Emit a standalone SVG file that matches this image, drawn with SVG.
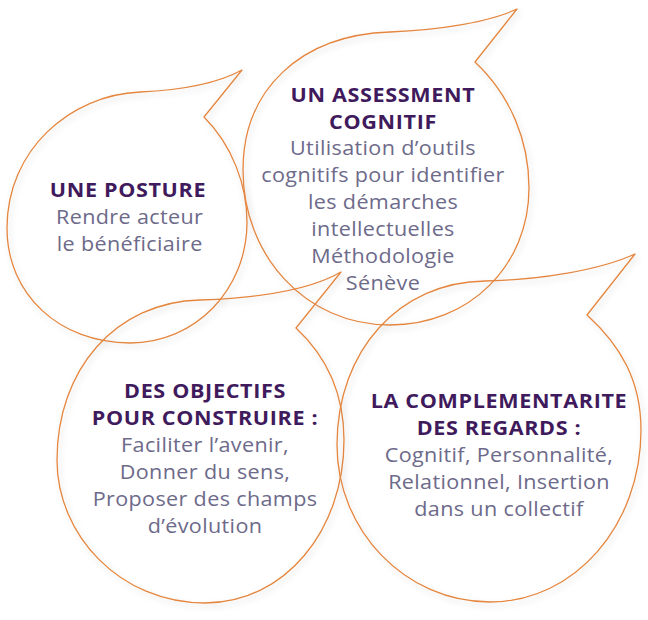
<svg xmlns="http://www.w3.org/2000/svg" width="648" height="620" viewBox="0 0 648 620">
  <style>
    .bubble { fill: none; stroke: #e5863f; stroke-width: 1.3; stroke-linejoin: round; filter: url(#shadow); }
    .title { font-family: "Open Sans", "DejaVu Sans", sans-serif; font-weight: 700; font-size: 19.6px; letter-spacing: 0.6px; fill: #3f1a5c; text-anchor: middle; }
    .body { font-family: "Open Sans", "DejaVu Sans", sans-serif; font-weight: 400; font-size: 19.6px; letter-spacing: 0.33px; fill: #6d6a8a; text-anchor: middle; }
  </style>
  <defs>
    <filter id="shadow" x="-10%" y="-10%" width="120%" height="120%">
      <feDropShadow dx="2" dy="3" stdDeviation="3" flood-color="#000000" flood-opacity="0.16"/>
    </filter>
  </defs>
  <rect width="648" height="620" fill="#ffffff"/>

  <g id="bubble-posture">
    <path class="bubble" d="M204,117 C232,145 247,185 247,222 C247,290 195,343 130,343 C60,343 7,295 7,228 C7,150 70,95 140,92 C185,90 220,82 242,70 Z"/>
    <g transform="translate(128,0) scale(1.1,1)">
      <text class="title" x="0" y="197">UNE POSTURE</text>
      <text class="body" x="1.5" y="224.5">Rendre acteur</text>
      <text class="body" x="1.5" y="251.5">le bénéficiaire</text>
    </g>
  </g>

  <g id="bubble-assessment">
    <path class="bubble" d="M475,62 C510,95 529,140 529,188 C529,265 470,325 390,325 C305,325 243,255 243,170 C243,90 300,35 390,32 C440,30 490,22 517,9 Z"/>
    <g transform="translate(383,0) scale(1.1,1)">
      <text class="title" x="0" y="101.7">UN ASSESSMENT</text>
      <text class="title" x="0" y="128.6">COGNITIF</text>
      <text class="body" x="0" y="155.5">Utilisation d’outils</text>
      <text class="body" x="0" y="182.4">cognitifs pour identifier</text>
      <text class="body" x="0" y="209.3">les démarches</text>
      <text class="body" x="0" y="236.2">intellectuelles</text>
      <text class="body" x="0" y="263.1">Méthodologie</text>
      <text class="body" x="0" y="290">Sénève</text>
    </g>
  </g>

  <g id="bubble-objectifs">
    <path class="bubble" d="M296,328 C325,355 344,390 344,440 C344,530 285,603 205,603 C120,603 57,535 57,460 C57,370 115,302 200,300 C260,298 310,290 341,272 Z"/>
    <g transform="translate(205,0) scale(1.1,1)">
      <text class="title" x="0" y="398.3">DES OBJECTIFS</text>
      <text class="title" x="0" y="425.3">POUR CONSTRUIRE :</text>
      <text class="body" x="0" y="452.3">Faciliter l’avenir,</text>
      <text class="body" x="0" y="479.3">Donner du sens,</text>
      <text class="body" x="0" y="506.3">Proposer des champs</text>
      <text class="body" x="0" y="533.3">d’évolution</text>
    </g>
  </g>

  <g id="bubble-regards">
    <path class="bubble" d="M587,315 C620,345 641,380 641,430 C641,525 575,602 490,602 C405,602 337,530 337,445 C337,350 400,282 485,281 C540,280 600,270 635,254 Z"/>
    <g transform="translate(499,0) scale(1.1,1)">
      <text class="title" x="0" y="408.3">LA COMPLEMENTARITE</text>
      <text class="title" x="0" y="435.2">DES REGARDS :</text>
      <text class="body" x="0" y="462.1">Cognitif, Personnalité,</text>
      <text class="body" x="0" y="489">Relationnel, Insertion</text>
      <text class="body" x="0" y="516">dans un collectif</text>
    </g>
  </g>
</svg>
